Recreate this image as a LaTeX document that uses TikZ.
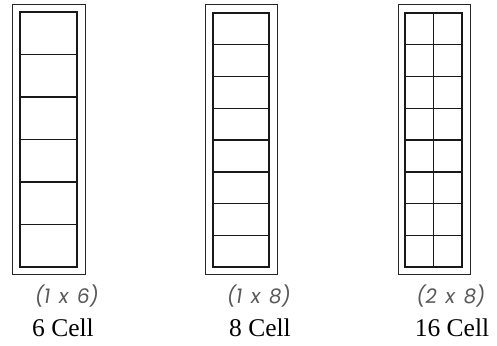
\documentclass[tikz,border=0pt]{standalone}
\usepackage{fontspec}
\setmainfont{Liberation Serif}
\newfontfamily\dimfont[FakeSlant=0.15,WordSpace=1.6]{Poppins}
\usetikzlibrary{positioning}
\tikzset{
  outerframe/.style={draw=black!85, line width=1pt},
  cellgrid/.style={draw=black!90, line width=1.5pt},
  dimlabel/.style={font=\dimfont\fontsize{20}{20}\selectfont, text=black!65, inner sep=0pt},
  namelabel/.style={font=\fontsize{25.5}{25.5}\selectfont, inner sep=0pt}
}
\begin{document}
\begin{tikzpicture}[x=1pt,y=-1pt]
		\useasboundingbox (0,0) rectangle (497,345);
		
		% Define the 6 cell tray
		\draw[outerframe] (12,5) rectangle (85,274);
		\draw[cellgrid] (20,12) rectangle (77,267);
		\foreach \i in {1,...,5}
			\draw[cellgrid] (20,{12+\i*42.5}) -- (77,{12+\i*42.5});
		
		% Define the 8 cell tray
		\draw[outerframe] (205,5) rectangle (277,274);
		\draw[cellgrid] (213,13) rectangle (269,267);
		\foreach \i in {1,...,7}
			\draw[cellgrid] (213,{13+\i*31.75}) -- (269,{13+\i*31.75});
		
		% Define the 16 cell tray
		\draw[outerframe] (398,5) rectangle (470,274);
		\draw[cellgrid] (405,13) rectangle (462,267);
		\draw[cellgrid] (433.5,13) -- (433.5,267);
		\foreach \i in {1,...,7}
			\draw[cellgrid] (405,{13+\i*31.75}) -- (462,{13+\i*31.75});
		
		% Define labels
		\node[dimlabel] (dimA) at (66,296) {(1 x 6)};
		\node[dimlabel] (dimB) at (258,296) {(1 x 8)};
		\node[dimlabel] (dimC) at (450,296) {(2 x 8)};
		\node[namelabel] (nameA) at (63,328) {6 Cell};
		\node[namelabel] (nameB) at (260,328) {8 Cell};
		\node[namelabel] (nameC) at (452,328) {16 Cell};
	\end{tikzpicture}
\end{document}
